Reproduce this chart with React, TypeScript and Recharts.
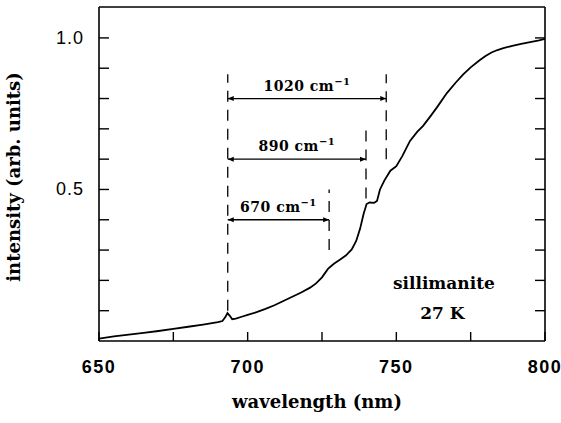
import React from "react";
import { LineChart, Line, XAxis, YAxis, ReferenceLine, ReferenceDot } from "recharts";

// spectrum
const wavelength = [
  650, 655, 660, 665, 670, 675, 680, 685, 690, 691.5, 692.5, 693.2, 694, 694.8, 696, 698,
  700, 703, 706, 709, 712, 715, 718, 721, 723, 725, 727, 729, 731, 733, 735, 736.5, 737.8,
  739, 740, 741, 742.5, 743.5, 744.5, 746, 748, 750, 752, 754.6, 757, 759, 761.5, 763.6,
  767, 770, 772.5, 775, 778, 780, 782, 784, 786, 789, 792, 795, 798, 800,
];
const intensity = [
  0.008, 0.015, 0.021, 0.027, 0.033, 0.04, 0.047, 0.054, 0.062, 0.066, 0.079, 0.092, 0.083,
  0.072, 0.074, 0.08, 0.086, 0.095, 0.106, 0.118, 0.132, 0.146, 0.16, 0.176, 0.19, 0.21,
  0.238, 0.255, 0.268, 0.282, 0.302, 0.33, 0.37, 0.42, 0.452, 0.457, 0.456, 0.462, 0.5,
  0.53, 0.562, 0.577, 0.61, 0.66, 0.69, 0.71, 0.742, 0.77, 0.818, 0.853, 0.88, 0.903,
  0.926, 0.94, 0.952, 0.96, 0.966, 0.974, 0.98, 0.986, 0.992, 0.997,
];

const xTicks = [650, 675, 700, 725, 750, 775, 800];
const xLabels = [650, 700, 750, 800];
const yTicks = [0.1, 0.2, 0.3, 0.4, 0.5, 0.6, 0.7, 0.8, 0.9, 1.0];
const yLabels = [0.5, 1.0];

// Raman shift markers
const origin = 693.3;
const originTop = 0.88;
const originBottom = 0.1;
const shiftLabels = ["1020", "890", "670"];
const shiftEnds = [746.6, 739.8, 727.4];
const shiftArrowY = [0.8, 0.6, 0.4];
const shiftTop = [0.88, 0.705, 0.5];
const shiftBottom = [0.6, 0.47, 0.3];

const data = wavelength.map((w, i) => ({ w, v: intensity[i] }));

const serif = "'DejaVu Serif', serif";
const sans = "'Liberation Sans', Arial, sans-serif";

const XTick = (props: any) => {
  const { x, y, payload, top } = props;
  const show = !top && xLabels.includes(payload.value);
  return (
    <g>
      <line x1={x} x2={x} y1={y} y2={top ? y + 9 : y - 9} stroke="#000" strokeWidth={1.4} />
      {show && (
        <text x={x} y={y + 32} textAnchor="middle" fontFamily={sans} fontWeight="bold" fontSize={18} letterSpacing={1.5} fill="#000">
          {payload.value}
        </text>
      )}
    </g>
  );
};

const YTick = (props: any) => {
  const { x, y, payload, right } = props;
  const show = !right && yLabels.includes(payload.value);
  return (
    <g>
      <line x1={x} x2={right ? x - 10 : x + 10} y1={y} y2={y} stroke="#000" strokeWidth={1.4} />
      {show && (
        <text x={x - 15} y={y + 6} textAnchor="end" fontFamily={sans} fontSize={18} letterSpacing={1} fill="#000">
          {payload.value.toFixed(1)}
        </text>
      )}
    </g>
  );
};

const ArrowShape = (props: any) => {
  const { x1, y1, x2, y2 } = props;
  return (
    <g>
      <line x1={x1} y1={y1} x2={x2} y2={y2} stroke="#000" strokeWidth={1.3} />
      <polygon points={`${x1},${y1} ${x1 + 6},${y1 - 2.5} ${x1 + 6},${y1 + 2.5}`} fill="#000" />
      <polygon points={`${x2},${y2} ${x2 - 6},${y2 - 2.5} ${x2 - 6},${y2 + 2.5}`} fill="#000" />
    </g>
  );
};

const shiftLabel = (text: string) => (props: any) => {
  const { viewBox } = props;
  return (
    <text x={viewBox.x + viewBox.width / 2} y={viewBox.y - 8} textAnchor="middle" fontFamily={serif} fontWeight="bold" fontSize={14} letterSpacing={0.5} fill="#000">
      {text} cm
      <tspan dy={-6} fontSize={10}>−1</tspan>
    </text>
  );
};

const noteLabel = (text: string) => (props: any) => {
  const { viewBox } = props;
  return (
    <text x={viewBox.x + viewBox.width / 2} y={viewBox.y + 6} textAnchor="middle" fontFamily={serif} fontWeight="bold" fontSize={17} fill="#000">
      {text}
    </text>
  );
};

const xTitle = (props: any) => {
  const { viewBox } = props;
  return (
    <text x={viewBox.x + viewBox.width / 2 - 5} y={viewBox.y + 67} textAnchor="middle" fontFamily={serif} fontWeight="bold" fontSize={18} fill="#000">
      wavelength (nm)
    </text>
  );
};

const yTitle = (props: any) => {
  const { viewBox } = props;
  const cx = viewBox.x + viewBox.width - 79;
  const cy = viewBox.y + viewBox.height / 2 + 3;
  return (
    <text x={cx} y={cy} transform={`rotate(-90 ${cx} ${cy})`} textAnchor="middle" fontFamily={serif} fontWeight="bold" fontSize={18} fill="#000">
      intensity (arb. units)
    </text>
  );
};

const axisLine = { stroke: "#000", strokeWidth: 1.6 };

export default function App() {
  return (
    <div style={{ position: "absolute", left: 0, top: 0, background: "#fff" }}>
      <LineChart width={561} height={423} data={data} margin={{ top: 6, right: 15, bottom: 81, left: 98 }}>
        <XAxis
          dataKey="w"
          type="number"
          domain={[650, 800]}
          ticks={xTicks}
          interval={0}
          height={1}
          tickSize={0}
          tickMargin={0}
          tickLine={false}
          axisLine={axisLine}
          tick={<XTick />}
          label={xTitle}
          allowDataOverflow
        />
        <XAxis
          xAxisId="top"
          orientation="top"
          type="number"
          domain={[650, 800]}
          ticks={xTicks}
          interval={0}
          height={1}
          tickSize={0}
          tickMargin={0}
          tickLine={false}
          axisLine={axisLine}
          tick={<XTick top />}
          allowDataOverflow
        />
        <YAxis
          type="number"
          domain={[0, 1.102]}
          ticks={yTicks}
          interval={0}
          width={1}
          tickSize={0}
          tickMargin={0}
          tickLine={false}
          axisLine={axisLine}
          tick={<YTick />}
          label={yTitle}
          allowDataOverflow
        />
        <YAxis
          yAxisId="right"
          orientation="right"
          type="number"
          domain={[0, 1.102]}
          ticks={yTicks}
          interval={0}
          width={1}
          tickSize={0}
          tickMargin={0}
          tickLine={false}
          axisLine={axisLine}
          tick={<YTick right />}
          allowDataOverflow
        />
        <ReferenceLine
          segment={[{ x: origin, y: originBottom }, { x: origin, y: originTop }]}
          stroke="#000"
          strokeWidth={1.3}
          strokeDasharray="11 8"
        />
        {shiftLabels.map((s, i) => (
          <ReferenceLine
            key={"d" + s}
            segment={[{ x: shiftEnds[i], y: shiftBottom[i] }, { x: shiftEnds[i], y: shiftTop[i] }]}
            stroke="#000"
            strokeWidth={1.3}
            strokeDasharray="11 8"
          />
        ))}
        {shiftLabels.map((s, i) => (
          <ReferenceLine
            key={"a" + s}
            segment={[{ x: origin, y: shiftArrowY[i] }, { x: shiftEnds[i], y: shiftArrowY[i] }]}
            shape={ArrowShape}
            label={shiftLabel(s)}
          />
        ))}
        <ReferenceDot x={766} y={0.193} r={0} stroke="none" fill="none" label={noteLabel("sillimanite")} />
        <ReferenceDot x={765.5} y={0.094} r={0} stroke="none" fill="none" label={noteLabel("27 K")} />
        <Line
          dataKey="v"
          type="linear"
          stroke="#000"
          strokeWidth={1.8}
          dot={false}
          isAnimationActive={false}
        />
      </LineChart>
    </div>
  );
}
